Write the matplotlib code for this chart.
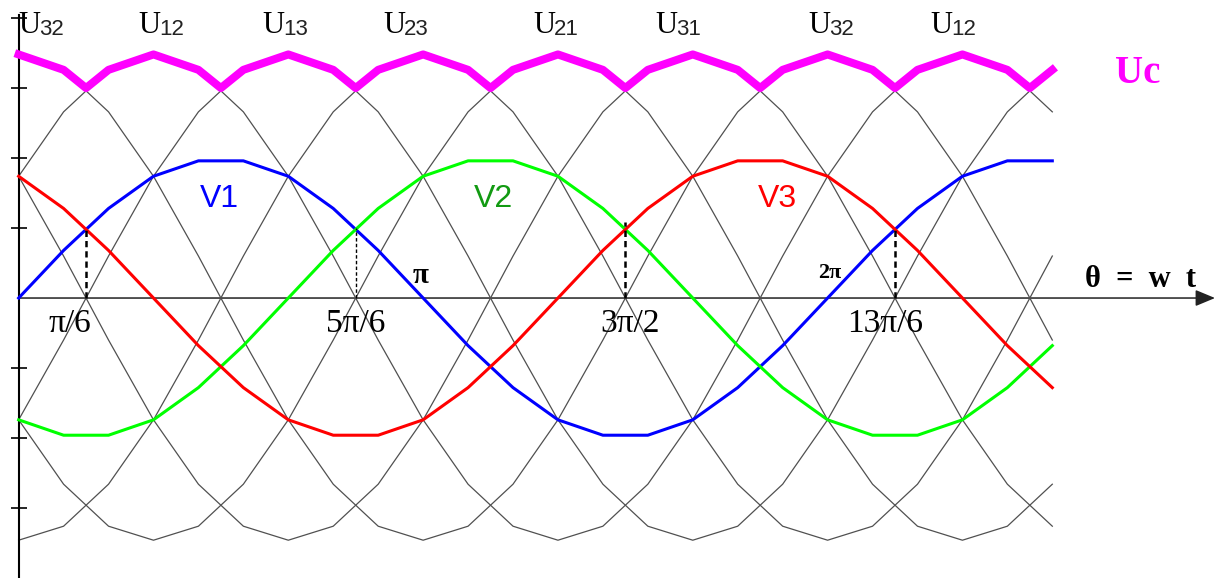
import matplotlib.pyplot as plt

# angle samples in degrees (20 degree steps)
theta = [0, 20, 40, 60, 80, 100, 120, 140, 160, 180, 200, 220,
         240, 260, 280, 300, 320, 340, 360, 380, 400, 420, 440, 460]

# phase voltages (per unit)
v1 = [0.00, 0.34, 0.64, 0.87, 0.98, 0.98, 0.87, 0.64, 0.34, 0.00, -0.34, -0.64,
      -0.87, -0.98, -0.98, -0.87, -0.64, -0.34, 0.00, 0.34, 0.64, 0.87, 0.98, 0.98]
v2 = [-0.87, -0.98, -0.98, -0.87, -0.64, -0.34, 0.00, 0.34, 0.64, 0.87, 0.98, 0.98,
      0.87, 0.64, 0.34, 0.00, -0.34, -0.64, -0.87, -0.98, -0.98, -0.87, -0.64, -0.34]
v3 = [0.87, 0.64, 0.34, 0.00, -0.34, -0.64, -0.87, -0.98, -0.98, -0.87, -0.64, -0.34,
      0.00, 0.34, 0.64, 0.87, 0.98, 0.98, 0.87, 0.64, 0.34, 0.00, -0.34, -0.64]

# line-to-line voltages
u32 = [1.73, 1.63, 1.33, 0.87, 0.30, -0.30, -0.87, -1.33, -1.63, -1.73, -1.63, -1.33,
       -0.87, -0.30, 0.30, 0.87, 1.33, 1.63, 1.73, 1.63, 1.33, 0.87, 0.30, -0.30]
u12 = [0.87, 1.33, 1.63, 1.73, 1.63, 1.33, 0.87, 0.30, -0.30, -0.87, -1.33, -1.63,
       -1.73, -1.63, -1.33, -0.87, -0.30, 0.30, 0.87, 1.33, 1.63, 1.73, 1.63, 1.33]
u13 = [-0.87, -0.30, 0.30, 0.87, 1.33, 1.63, 1.73, 1.63, 1.33, 0.87, 0.30, -0.30,
       -0.87, -1.33, -1.63, -1.73, -1.63, -1.33, -0.87, -0.30, 0.30, 0.87, 1.33, 1.63]
u23 = [-1.73, -1.63, -1.33, -0.87, -0.30, 0.30, 0.87, 1.33, 1.63, 1.73, 1.63, 1.33,
       0.87, 0.30, -0.30, -0.87, -1.33, -1.63, -1.73, -1.63, -1.33, -0.87, -0.30, 0.30]
u21 = [-0.87, -1.33, -1.63, -1.73, -1.63, -1.33, -0.87, -0.30, 0.30, 0.87, 1.33, 1.63,
       1.73, 1.63, 1.33, 0.87, 0.30, -0.30, -0.87, -1.33, -1.63, -1.73, -1.63, -1.33]
u31 = [0.87, 0.30, -0.30, -0.87, -1.33, -1.63, -1.73, -1.63, -1.33, -0.87, -0.30, 0.30,
       0.87, 1.33, 1.63, 1.73, 1.63, 1.33, 0.87, 0.30, -0.30, -0.87, -1.33, -1.63]

# rectified output Uc (upper envelope, with the commutation points)
uc_theta = [0, 20, 30, 40, 60, 80, 90, 100, 120, 140, 150, 160, 180, 200, 210, 220,
            240, 260, 270, 280, 300, 320, 330, 340, 360, 380, 390, 400, 420, 440, 450, 460]
uc = [1.74, 1.63, 1.50, 1.63, 1.74, 1.63, 1.50, 1.63, 1.74, 1.63, 1.50, 1.63,
      1.74, 1.63, 1.50, 1.63, 1.74, 1.63, 1.50, 1.63, 1.74, 1.63, 1.50, 1.63,
      1.74, 1.63, 1.50, 1.63, 1.74, 1.63, 1.50, 1.63]

# commutation instants and the top of each dashed marker
dash_theta = [30, 150, 270, 390]
dash_top = [0.50, 0.50, 0.54, 0.50]

top_labels = ['32', '12', '13', '23', '21', '31', '32', '12']
top_label_theta = [-0.3, 53.1, 108.3, 162.2, 228.9, 283.3, 351.3, 405.6]

angle_labels = ['π/6', '5π/6', '3π/2', '13π/6']
angle_label_theta = [22.9, 150.2, 272.1, 385.6]

SERIF = ['Liberation Serif', 'DejaVu Serif']
SANS = ['Liberation Sans', 'DejaVu Sans']

fig = plt.figure(figsize=(12.15, 5.78), dpi=100)
ax = fig.add_axes([0, 0, 1, 1])
ax.set_xlim(-8.3, 532.4)
ax.set_ylim(-2.0, 2.129)

for u in (u32, u12, u13, u23, u21, u31):
    ax.plot(theta, u, color='#505050', lw=0.9, zorder=2)

ax.plot(theta, v1, color='#0000ff', lw=2.2, zorder=3)
ax.plot(theta, v2, color='#00ff00', lw=2.2, zorder=3)
ax.plot(theta, v3, color='#ff0000', lw=2.2, zorder=3)
ax.plot(uc_theta, uc, color='#ff00ff', lw=5.8, zorder=4)

for x, top, w in zip(dash_theta, dash_top, [1.8, 1.0, 1.8, 1.8]):
    ax.plot([x, x], [0, top], color='black', lw=w, ls=(0, (2.5, 1.6)), zorder=5)

# axes: vertical spine at theta = 0 with small ticks, horizontal arrow
for side in ('top', 'right', 'bottom'):
    ax.spines[side].set_visible(False)
ax.spines['left'].set_position(('data', 0))
ax.spines['left'].set_bounds(-2.0, 2.02)
ax.spines['left'].set_linewidth(1.5)
ax.set_yticks([2.0, 1.5, 1.0, 0.5, -0.5, -1.0, -1.5])
ax.set_xticks([])
ax.tick_params(axis='y', direction='inout', length=12, width=1.2, labelleft=False)
ax.annotate('', xy=(532.4, 0), xytext=(0, 0), annotation_clip=False,
            arrowprops=dict(arrowstyle='-|>,head_length=1.2,head_width=0.5',
                            mutation_scale=10, lw=1.1, color='#222222',
                            shrinkA=0, shrinkB=0), zorder=1)

for sub, x in zip(top_labels, top_label_theta):
    ax.text(x, 1.893, 'U', family=SERIF, fontsize=22, ha='left', va='baseline')
    ax.annotate(sub, xy=(x, 1.893), xytext=(15, -1.5), textcoords='offset points',
                family=SANS, fontsize=16, ha='left', va='baseline', color='#222222')

for lab, x in zip(angle_labels, angle_label_theta):
    ax.text(x, -0.243, lab, family=SERIF, fontsize=24, ha='center', va='baseline')

ax.text(89.2, 0.65, 'V1', family=SANS, fontsize=23, color='#0000ff', ha='center', va='baseline')
ax.text(211.4, 0.65, 'V2', family=SANS, fontsize=23, color='#129a12', ha='center', va='baseline')
ax.text(337.7, 0.65, 'V3', family=SANS, fontsize=23, color='#ff0000', ha='center', va='baseline')

ax.text(179, 0.107, 'π', family=SERIF, fontsize=21, fontweight='bold', ha='center', va='baseline')
ax.text(361, 0.143, '2π', family=SERIF, fontsize=16, fontweight='bold', ha='center', va='baseline')
ax.text(499.1, 0.079, 'θ  =  w  t', family=SERIF, fontsize=22, fontweight='bold',
        ha='center', va='baseline')
ax.text(498.2, 1.536, 'Uc', family=SERIF, fontsize=28, fontweight='bold',
        color='#ff00ff', ha='center', va='baseline')

fig.savefig('out.png', dpi=100)
